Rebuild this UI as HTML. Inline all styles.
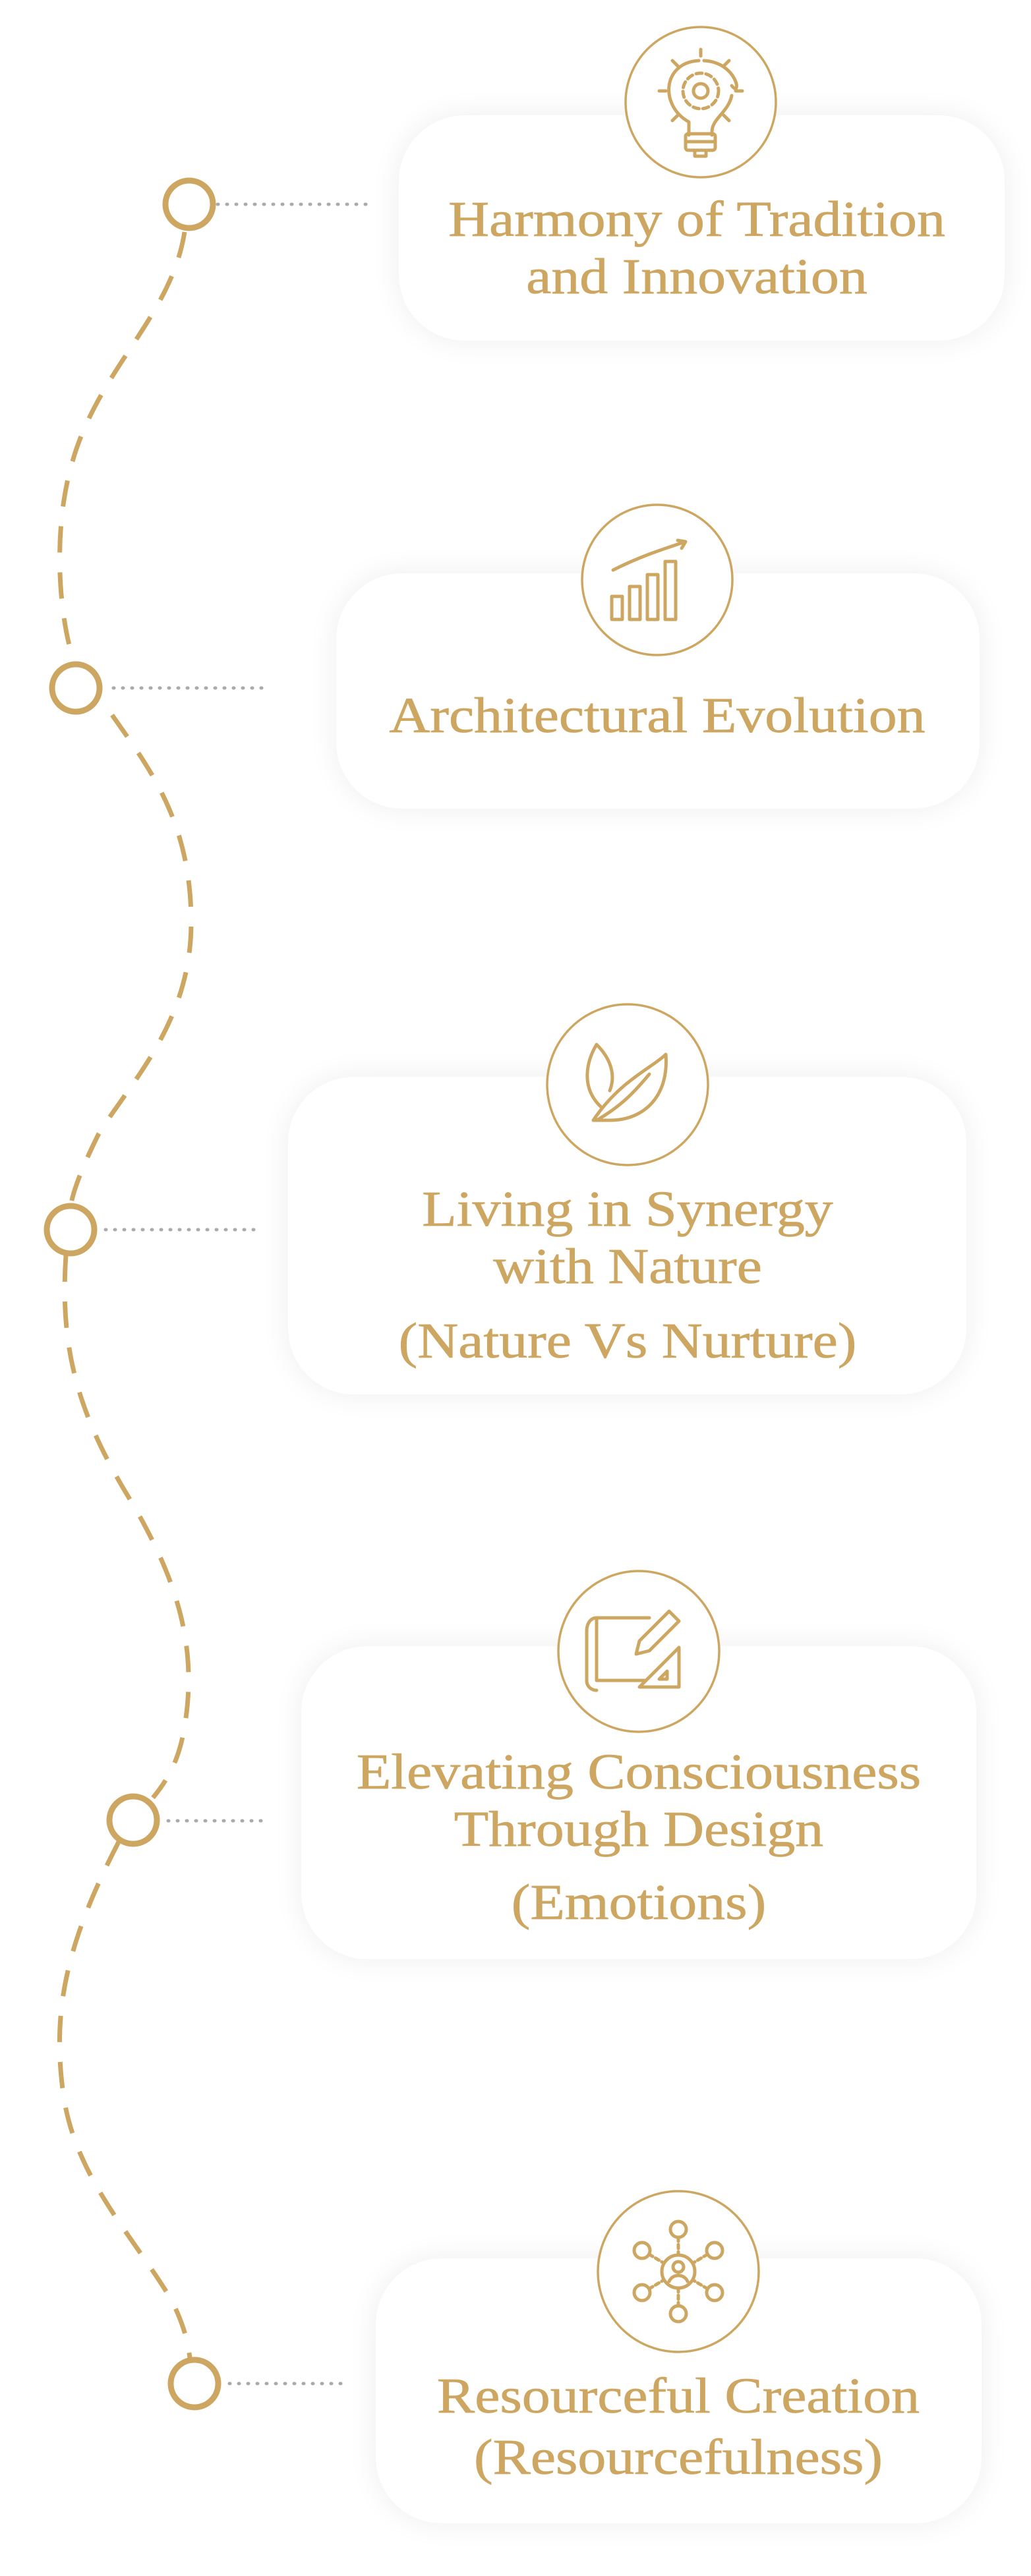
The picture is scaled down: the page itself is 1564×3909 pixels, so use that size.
<!DOCTYPE html>
<html><head><meta charset="utf-8"><style>
html,body{margin:0;padding:0;background:#fff;}
body{width:1564px;height:3909px;position:relative;overflow:hidden;font-family:"Liberation Serif",serif;}
.card{position:absolute;background:#fff;border-radius:100px;box-shadow:0 0 45px rgba(0,0,0,0.07);}
.t{position:absolute;color:#CDA762;font-size:76px;text-align:center;line-height:87px;white-space:nowrap;transform:translateX(-50%) scaleX(1.13);-webkit-text-stroke:0.8px #CDA762;}
svg{position:absolute;left:0;top:0;}
</style></head><body>
<div class="card" style="left:605px;top:175px;width:919px;height:342px"></div>
<div class="card" style="left:510px;top:870px;width:976px;height:357px"></div>
<div class="card" style="left:437px;top:1634px;width:1029px;height:482px"></div>
<div class="card" style="left:457px;top:2498px;width:1024px;height:475px"></div>
<div class="card" style="left:570px;top:3427px;width:919px;height:402px"></div>

<svg width="1564" height="3909" viewBox="0 0 1564 3909">
<g fill="none" stroke="#CDA762" stroke-width="7" stroke-dasharray="40 30">
<path d="M280 352 C260 480,150 560,110 700 C80 800,88 930,112 1004"/>
<path d="M170 1085 C230 1170,290 1250,290 1400 C290 1550,200 1640,150 1720 C125 1770,112 1805,108 1826"/>
<path d="M100 1905 C90 2050,120 2150,200 2280 C270 2400,300 2500,280 2620 C272 2670,255 2700,232 2728"/>
<path d="M180 2795 C100 2950,80 3050,95 3170 C110 3300,200 3390,260 3490 C280 3530,285 3555,288 3578"/>
</g>
<g fill="none" stroke="#aaa" stroke-width="5" stroke-dasharray="1 13" stroke-linecap="round">
<line x1="330" y1="310" x2="562" y2="310"/>
<line x1="172" y1="1044" x2="405" y2="1044"/>
<line x1="160" y1="1866" x2="395" y2="1866"/>
<line x1="255" y1="2763" x2="400" y2="2763"/>
<line x1="348" y1="3617" x2="520" y2="3617"/>
</g>
<g fill="#fff" stroke="#CDA762" stroke-width="9">
<circle cx="287" cy="310" r="36"/>
<circle cx="115" cy="1044" r="36"/>
<circle cx="107" cy="1866" r="36"/>
<circle cx="202" cy="2762" r="36"/>
<circle cx="295" cy="3617" r="36"/>
</g>
<g fill="#fff" stroke="#CDA762" stroke-width="3.5">
<circle cx="1063" cy="155" r="114"/>
<circle cx="997" cy="880" r="114"/>
<circle cx="952" cy="1646" r="122"/>
<circle cx="969" cy="2506" r="122"/>
<circle cx="1029" cy="3447" r="122"/>
</g>
<g fill="none" stroke="#CDA762" stroke-width="5" stroke-linecap="round" stroke-linejoin="round">
<path d="M1045 185 C1000 160,1005 95,1060 92 M1068 92 C1120 95,1125 150,1110 130 M1110 145 C1105 170,1080 180,1080 200 L1080 205 M1045 185 L1045 205"/>
<rect x="1040" y="203" width="45" height="25" rx="4"/><line x1="1040" y1="215" x2="1085" y2="215"/><rect x="1054" y="228" width="17" height="9"/>
<circle cx="1063" cy="138" r="11"/><circle cx="1063" cy="138" r="27" stroke-dasharray="9 6"/>
<path d="M1063 75 v10 M1020 92 l8 8 M1106 92 l-8 8 M1000 138 h10 M1116 138 h10 M1020 183 l8 -8 M1106 183 l-8 -8"/>
<rect x="928" y="905" width="16" height="35"/><rect x="955" y="890" width="16" height="50"/><rect x="982" y="872" width="16" height="68"/><rect x="1009" y="852" width="16" height="88"/>
<path d="M930 865 C970 845,1000 835,1040 822 M1028 820 l12 2 -6 10"/>
<path d="M900 1700 C940 1640,990 1620,1010 1600 C1015 1660,980 1700,925 1700 Z M905 1700 C940 1680,960 1660,985 1630"/>
<path d="M912 1680 C880 1650,890 1610,905 1585 C925 1605,935 1630,925 1655"/>
<path d="M905 2455 h80 M905 2455 v95 h75 M905 2455 c-10 0,-15 10,-15 20 v75 c0 10,8 15,15 15"/>
<path d="M1030 2560 L1030 2500 L970 2560 Z M1012 2548 v-12 l-12 12 Z"/>
<path d="M1015 2445 l15 15 -45 45 -20 5 5 -20 Z"/>
<circle cx="1029" cy="3447" r="25"/><circle cx="1029" cy="3440" r="8"/><path d="M1015 3462 c5 -12,23 -12,28 0"/>
<circle cx="1029" cy="3383" r="12"/><circle cx="1029" cy="3511" r="12"/>
<circle cx="974" cy="3415" r="12"/><circle cx="1084" cy="3415" r="12"/><circle cx="974" cy="3479" r="12"/><circle cx="1084" cy="3479" r="12"/>
<path d="M1029 3395 v27 M1029 3472 v27 M985 3421 l20 12 M1073 3421 l-20 12 M985 3473 l20 -12 M1073 3473 l-20 -12" stroke-dasharray="6 5"/>
</g>
</svg>

<div class="t" style="left:1057px;top:290px">Harmony of Tradition<br>and Innovation</div>
<div class="t" style="left:997px;top:1043px">Architectural Evolution</div>
<div class="t" style="left:952px;top:1792px">Living in Synergy<br>with Nature</div>
<div class="t" style="left:952px;top:1992px">(Nature Vs Nurture)</div>
<div class="t" style="left:969px;top:2646px">Elevating Consciousness<br>Through Design</div>
<div class="t" style="left:969px;top:2844px">(Emotions)</div>
<div class="t" style="left:1029px;top:3590px;line-height:93px">Resourceful Creation<br>(Resourcefulness)</div>
</body></html>
